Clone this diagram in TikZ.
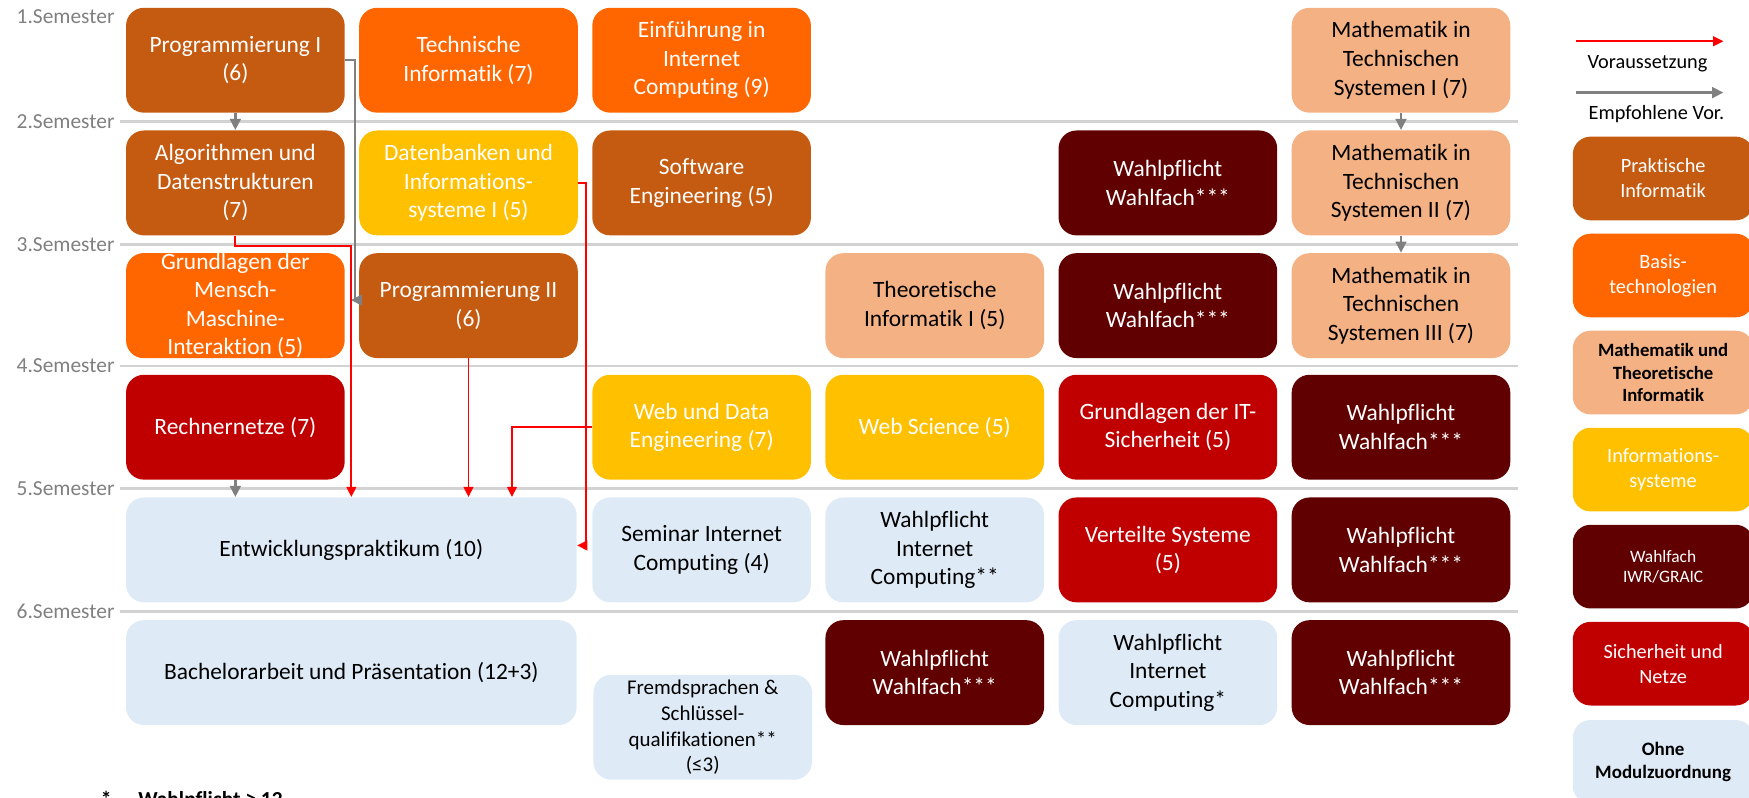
\documentclass[tikz,border=0pt]{standalone}
\usepackage{fontspec}
\setmainfont{Carlito}[Ligatures=NoCommon]
\usepackage{tikz}
\usetikzlibrary{arrows.meta}
\usepackage{xcolor}
\definecolor{mhbrown}{RGB}{197,90,17}
\definecolor{mhorange}{RGB}{255,102,0}
\definecolor{mhpeach}{RGB}{244,177,131}
\definecolor{mhyellow}{RGB}{255,192,0}
\definecolor{mhmaroon}{RGB}{96,0,0}
\definecolor{mhred}{RGB}{192,0,0}
\definecolor{mhblue}{RGB}{222,235,247}
\definecolor{mhgray}{RGB}{128,128,128}
\definecolor{mhline}{RGB}{210,210,210}
\tikzstyle{modul} = [rectangle,rounded corners=8pt,minimum width=98pt,minimum height=47pt,align=center,inner sep=2pt,font=\fontsize{10.5}{12.8}\selectfont]
\tikzstyle{prakt} = [modul,fill=mhbrown,text=white]
\tikzstyle{basis} = [modul,fill=mhorange,text=white]
\tikzstyle{mathe} = [modul,fill=mhpeach,text=black]
\tikzstyle{infosys} = [modul,fill=mhyellow,text=white]
\tikzstyle{wahl} = [modul,fill=mhmaroon,text=white]
\tikzstyle{sichnet} = [modul,fill=mhred,text=white]
\tikzstyle{ohne} = [modul,fill=mhblue,text=black]
\tikzstyle{legende} = [minimum width=81pt,minimum height=37.5pt,font=\fontsize{9.1}{11.2}\selectfont]
\tikzstyle{semester} = [anchor=east,inner sep=0pt,text=mhgray,font=\fontsize{9.6}{11}\selectfont]
\tikzstyle{semline} = [line width=1.2pt,color=mhline]
\tikzstyle{req} = [line width=0.8pt,->,>={Triangle[length=4.6pt,width=4.4pt]},color=red]
\tikzstyle{rec} = [line width=1.1pt,->,>={Triangle[length=5pt,width=4.8pt]},color=mhgray]

\begin{document}
\begin{tikzpicture}[x=0.5pt,y=-0.5pt]
\useasboundingbox (0,0) rectangle (1568,715);

% Semester lines
\draw[semline] (108,109) -- (1361,109);
\draw[semline] (108,219) -- (1361,219);
\draw[semline] (108,328) -- (1361,328);
\draw[semline] (108,438) -- (1361,438);
\draw[semline] (108,548) -- (1361,548);

% Semester labels
\node[semester] (sem1) at (103,15) {1.Semester};
\node[semester] (sem2) at (103,109) {2.Semester};
\node[semester] (sem3) at (103,219) {3.Semester};
\node[semester] (sem4) at (103,328) {4.Semester};
\node[semester] (sem5) at (103,438) {5.Semester};
\node[semester] (sem6) at (103,548) {6.Semester};

% 1. Semester
\node[prakt] (prog1) at (211,54) {Programmierung I\\(6)};
\node[basis] (techinf) at (420,54) {Technische\\Informatik (7)};
\node[basis] (einf) at (629,54) {Einführung in\\Internet\\Computing (9)};
\node[mathe] (mathe1) at (1256,54) {Mathematik in\\Technischen\\Systemen I (7)};

% 2. Semester
\node[prakt] (algo) at (211,164) {Algorithmen und\\Datenstrukturen\\(7)};
\node[infosys] (dbis) at (420,164) {Datenbanken und\\Informations-\\systeme I (5)};
\node[prakt] (swe) at (629,164) {Software\\Engineering (5)};
\node[wahl] (wp2) at (1047,164) {Wahlpflicht\\Wahlfach***};
\node[mathe] (mathe2) at (1256,164) {Mathematik in\\Technischen\\Systemen II (7)};

% 3. Semester
\node[basis,inner ysep=0pt] (gmmi) at (211,274) {Grundlagen der\\Mensch-\\Maschine-\\Interaktion (5)};
\node[prakt] (prog2) at (420,274) {Programmierung II\\(6)};
\node[mathe] (thi) at (838,274) {Theoretische\\Informatik I (5)};
\node[wahl] (wp3) at (1047,274) {Wahlpflicht\\Wahlfach***};
\node[mathe] (mathe3) at (1256,274) {Mathematik in\\Technischen\\Systemen III (7)};

% 4. Semester
\node[sichnet] (rn) at (211,383) {Rechnernetze (7)};
\node[infosys] (wde) at (629,383) {Web und Data\\Engineering (7)};
\node[infosys] (websci) at (838,383) {Web Science (5)};
\node[sichnet] (itsec) at (1047,383) {Grundlagen der IT-\\Sicherheit (5)};
\node[wahl] (wp4) at (1256,383) {Wahlpflicht\\Wahlfach***};

% 5. Semester
\node[ohne,minimum width=202pt] (entw) at (315,493) {Entwicklungspraktikum (10)};
\node[ohne] (seminar) at (629,493) {Seminar Internet\\Computing (4)};
\node[ohne] (wpic2) at (838,493) {Wahlpflicht\\Internet\\Computing**};
\node[sichnet] (vs) at (1047,493) {Verteilte Systeme\\(5)};
\node[wahl] (wp5) at (1256,493) {Wahlpflicht\\Wahlfach***};

% 6. Semester
\node[ohne,minimum width=202pt] (ba) at (315,603) {Bachelorarbeit und Präsentation (12+3)};
\node[ohne,inner ysep=0pt,font=\fontsize{9.4}{11.6}\selectfont] (fremd) at (630,652) {Fremdsprachen \&\\Schlüssel-\\qualifikationen**\\(≤3)};
\node[wahl] (wp6a) at (838,603) {Wahlpflicht\\Wahlfach***};
\node[ohne] (wpic1) at (1047,603) {Wahlpflicht\\Internet\\Computing*};
\node[wahl] (wp6b) at (1256,603) {Wahlpflicht\\Wahlfach***};

% Empfohlene Voraussetzungen
\draw[rec] (prog1) -- (algo);
\draw[rec] (prog1.east) -- ++(9,0) |- ([xshift=-3.5pt,yshift=2.5pt]prog2.west);
\draw[rec] (rn.south) -- (rn.south |- entw.north);
\draw[rec] (mathe1) -- (mathe2);
\draw[rec] (mathe2) -- (mathe3);

% Voraussetzungen
\draw[req] (algo.south) -- ++(0,9) -| (entw.north);
\draw[req] (prog2.south) -- (prog2.south |- entw.north);
\draw[req] (wde.west) -| ([xshift=72pt]entw.north);
\draw[req] (dbis.east) -- ++(7,0) |- ([yshift=2pt]entw.east);

% Legende
\coordinate (lreqa) at (1413,37);
\coordinate (lreqb) at (1545,37);
\coordinate (lreca) at (1413,83);
\coordinate (lrecb) at (1545,83);
\draw[req] (lreqa) -- (lreqb);
\draw[rec] (lreca) -- (lrecb);
\node[font=\fontsize{9.1}{11}\selectfont] (lreqtext) at (1477,57) {Voraussetzung};
\node[font=\fontsize{9.1}{11}\selectfont] (lrectext) at (1485,102) {Empfohlene Vor.};
\node[prakt,legende] (lprakt) at (1491,160) {Praktische\\Informatik};
\node[basis,legende] (lbasis) at (1491,247) {Basis-\\technologien};
\node[mathe,legende,font=\bfseries\fontsize{8.4}{10}\selectfont] (lmathe) at (1491,334) {Mathematik und\\Theoretische\\Informatik};
\node[infosys,legende] (linfo) at (1491,421) {Informations-\\systeme};
\node[wahl,legende,font=\fontsize{7.8}{9.2}\selectfont] (lwahl) at (1491,508) {Wahlfach\\IWR/GRAIC};
\node[sichnet,legende] (lsich) at (1491,595) {Sicherheit und\\Netze};
\node[ohne,legende,font=\bfseries\fontsize{8.5}{10.5}\selectfont] (lohne) at (1491,683) {Ohne\\Modulzuordnung};

% Fussnote
\node[anchor=base west,inner sep=0pt,font=\bfseries\fontsize{9.6}{11}\selectfont] (fussnote) at (90,723) {*\hspace{12pt}Wahlpflicht ≥ 12};
\end{tikzpicture}
\end{document}
